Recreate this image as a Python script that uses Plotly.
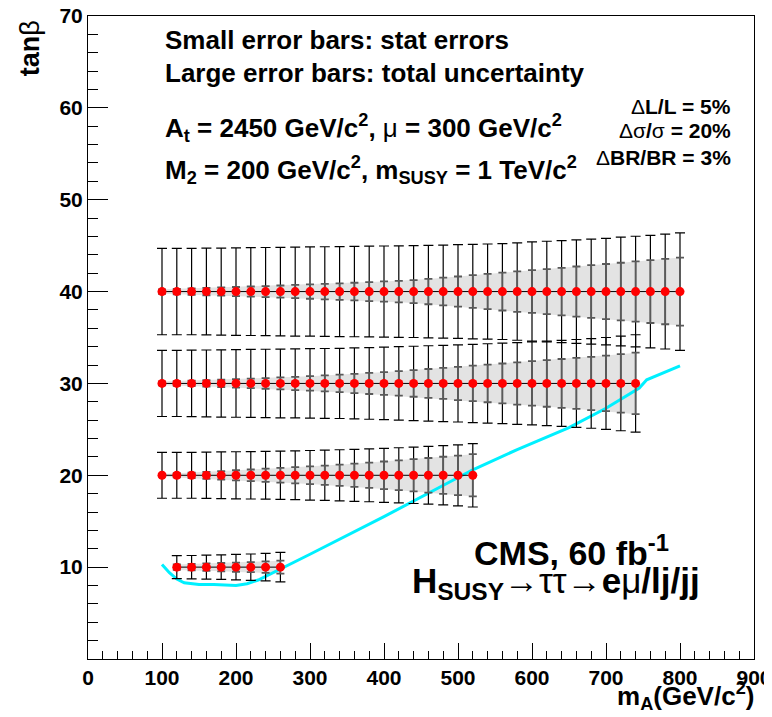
import plotly.graph_objects as go

FONT = "Liberation Sans, Arial, sans-serif"

# tan(beta) of each scan row
tanb_rows = [40, 30, 20, 10]

# m_A points (GeV/c^2) per row
mass_40 = [100, 120, 140, 160, 180, 200, 220, 240, 260, 280, 300, 320, 340, 360, 380, 400, 420, 440,
           460, 480, 500, 520, 540, 560, 580, 600, 620, 640, 660, 680, 700, 720, 740, 760, 780, 800]
mass_30 = [100, 120, 140, 160, 180, 200, 220, 240, 260, 280, 300, 320, 340, 360, 380, 400, 420, 440,
           460, 480, 500, 520, 540, 560, 580, 600, 620, 640, 660, 680, 700, 720, 740]
mass_20 = [100, 120, 140, 160, 180, 200, 220, 240, 260, 280, 300, 320, 340, 360, 380, 400, 420, 440,
           460, 480, 500, 520]
mass_10 = [120, 140, 160, 180, 200, 220, 240, 260]

# total uncertainty (large bars)
total_40 = [4.7, 4.7, 4.7, 4.72, 4.74, 4.76, 4.78, 4.8, 4.82, 4.84, 4.86, 4.88, 4.9, 4.92, 4.94, 4.96,
            4.98, 5.0, 5.03, 5.06, 5.1, 5.14, 5.18, 5.22, 5.3, 5.4, 5.48, 5.55, 5.63, 5.72, 5.8, 5.92,
            6.02, 6.12, 6.25, 6.4]
total_30 = [3.6, 3.6, 3.62, 3.64, 3.66, 3.68, 3.7, 3.72, 3.74, 3.76, 3.78, 3.8, 3.82, 3.86, 3.9, 3.95,
            4.0, 4.05, 4.1, 4.15, 4.2, 4.26, 4.32, 4.38, 4.45, 4.52, 4.6, 4.68, 4.78, 4.88, 5.0, 5.15, 5.3]
total_20 = [2.5, 2.5, 2.5, 2.52, 2.54, 2.56, 2.58, 2.6, 2.63, 2.66, 2.7, 2.74, 2.78, 2.83, 2.88, 2.94,
            3.0, 3.07, 3.14, 3.22, 3.32, 3.45]
total_10 = [1.25, 1.27, 1.3, 1.33, 1.38, 1.43, 1.5, 1.6]

# statistical errors (small bars + grey band)
stat_40 = [0.25, 0.3, 0.35, 0.4, 0.45, 0.5, 0.55, 0.6, 0.66, 0.72, 0.78, 0.84, 0.9, 0.96, 1.03, 1.1,
           1.17, 1.25, 1.38, 1.51, 1.64, 1.78, 1.92, 2.06, 2.2, 2.33, 2.45, 2.59, 2.73, 2.87, 3.0, 3.14,
           3.28, 3.42, 3.56, 3.7]
stat_30 = [0.2, 0.25, 0.3, 0.35, 0.4, 0.46, 0.52, 0.58, 0.65, 0.72, 0.79, 0.87, 0.95, 1.05, 1.15, 1.24,
           1.33, 1.45, 1.57, 1.69, 1.81, 1.93, 2.05, 2.17, 2.3, 2.42, 2.54, 2.66, 2.78, 2.9, 3.02, 3.18, 3.35]
stat_20 = [0.15, 0.22, 0.3, 0.38, 0.46, 0.55, 0.63, 0.72, 0.8, 0.88, 0.96, 1.05, 1.15, 1.26, 1.38, 1.5,
           1.62, 1.75, 1.88, 2.02, 2.15, 2.3]
stat_10 = [0.3, 0.35, 0.4, 0.45, 0.5, 0.55, 0.62, 0.7]

# discovery contour (cyan)
contour_mass = [100, 110, 120, 130, 150, 170, 200, 215, 230, 245, 260, 300, 400, 500, 520, 580, 650,
                700, 745, 755, 800]
contour_tanb = [10.3, 9.4, 8.7, 8.3, 8.1, 8.1, 8.0, 8.2, 8.6, 9.2, 9.8, 11.4, 15.5, 19.8, 20.6, 22.8,
                25.2, 27.3, 29.5, 30.4, 31.9]

rows = [
    (tanb_rows[0], mass_40, total_40, stat_40),
    (tanb_rows[1], mass_30, total_30, stat_30),
    (tanb_rows[2], mass_20, total_20, stat_20),
    (tanb_rows[3], mass_10, total_10, stat_10),
]

fig = go.Figure()

# grey stat bands
for tanb, masses, total, stat in rows:
    upper = [tanb + s for s in stat]
    lower = [tanb - s for s in stat]
    fig.add_trace(go.Scatter(
        x=masses + masses[::-1], y=upper + lower[::-1],
        mode="lines", fill="toself", fillcolor="#e3e3e3",
        line=dict(width=0), hoverinfo="skip", showlegend=False,
    ))

fig.add_trace(go.Scatter(
    x=contour_mass, y=contour_tanb, mode="lines",
    line=dict(color="#00f0ff", width=3), showlegend=False,
))

for tanb, masses, total, stat in rows:
    centre = [tanb] * len(masses)
    fig.add_trace(go.Scatter(
        x=masses, y=centre, mode="markers",
        marker=dict(size=1, color="rgba(0,0,0,0)"),
        error_y=dict(type="data", array=total, color="black", thickness=1.2, width=5),
        showlegend=False,
    ))
    fig.add_trace(go.Scatter(
        x=masses, y=centre, mode="markers",
        marker=dict(size=1, color="rgba(0,0,0,0)"),
        error_y=dict(type="data", array=stat, color="#5a5a5a", thickness=1.8, width=4),
        showlegend=False,
    ))
    fig.add_trace(go.Scatter(
        x=masses, y=centre, mode="lines+markers",
        line=dict(color="black", width=1),
        marker=dict(size=9, color="red"),
        showlegend=False,
    ))

NORMAL = '<span style="font-weight:normal">%s</span>'


def note(text, x, y, size, xanchor="left", **kw):
    fig.add_annotation(
        text=text, x=x, y=y, xref="paper", yref="paper",
        xanchor=xanchor, yanchor="middle", showarrow=False,
        font=dict(family=FONT, size=size, color="black", weight="bold"), **kw,
    )


note("Small error bars: stat errors", 0.1126, 0.9627, 26)
note("Large error bars: total uncertainty", 0.1126, 0.9114, 26)
note("A<sub>t</sub> = 2450 GeV/c<sup>2</sup>, " + NORMAL % "μ" + " = 300 GeV/c<sup>2</sup>",
     0.1126, 0.8258, 26)
note("M<sub>2</sub> = 200 GeV/c<sup>2</sup>, m<sub>SUSY</sub> = 1 TeV/c<sup>2</sup>",
     0.1126, 0.7605, 26)
note(NORMAL % "Δ" + "L/L = 5%", 0.9685, 0.86, 21, xanchor="right")
note(NORMAL % "Δσ" + "/" + NORMAL % "σ" + " = 20%", 0.9685, 0.8212, 21, xanchor="right")
note(NORMAL % "Δ" + "BR/BR = 3%", 0.9685, 0.7807, 21, xanchor="right")
note("CMS, 60 fb<sup>-1</sup>", 0.7267, 0.1695, 34, xanchor="center")
note("H<sub>SUSY</sub>" + NORMAL % "→ττ→" + "e" + NORMAL % "μ" + "/lj/jj",
     0.7027, 0.1182, 35, xanchor="center")
note("tan" + NORMAL % "β", -0.0871, 0.95, 27, xanchor="center", textangle=-90)
note("m<sub>A</sub>(GeV/c<sup>2</sup>)", 0.8964, -0.058, 26, xanchor="center")

axis_common = dict(
    showline=True, linecolor="black", linewidth=1, mirror=True, automargin=False,
    showgrid=False, zeroline=False, ticks="inside", tickcolor="black", tickwidth=1,
    ticklabeloverflow="allow",
    tickfont=dict(family=FONT, size=21, color="black", weight="bold"),
)
fig.update_xaxes(range=[0, 900], tick0=0, dtick=100, ticklen=16,
                 minor=dict(dtick=20, ticklen=8, ticks="inside", tickcolor="black"),
                 **axis_common)
fig.update_yaxes(range=[0, 70], tickvals=[10, 20, 30, 40, 50, 60, 70], ticklen=20,
                 minor=dict(tick0=0, dtick=2, ticklen=10, ticks="inside", tickcolor="black"),
                 **axis_common)

# page body adds an 8px offset, so the figure is 8px smaller than the window
fig.update_layout(
    width=764, height=709,
    margin=dict(l=80, r=18, t=8, b=58),
    plot_bgcolor="white", paper_bgcolor="white",
    font=dict(family=FONT),
)

fig.write_html("out.html")
